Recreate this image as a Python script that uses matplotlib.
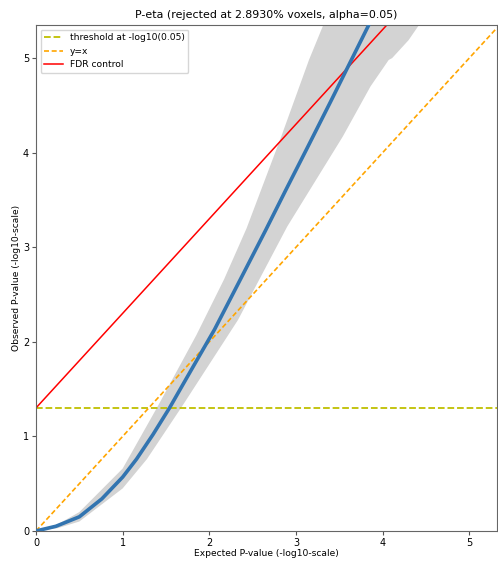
import numpy as np
import matplotlib
matplotlib.use("Agg")
import matplotlib.pyplot as plt

# observed vs expected -log10 p
expected = [0, 0.23, 0.5, 0.76, 1.0, 1.16, 1.35, 1.54, 1.79, 2.06, 2.35, 2.65, 2.88, 3.13, 3.40, 3.65, 3.84]
observed = [0, 0.05, 0.15, 0.34, 0.57, 0.76, 1.02, 1.30, 1.70, 2.13, 2.645, 3.18, 3.60, 4.05, 4.54, 5.00, 5.35]

# confidence band edges
band_up_x = [0, 0.25, 0.5, 1.0, 1.40, 1.85, 2.17, 2.43, 2.83, 3.15, 3.32, 3.45]
band_up_y = [0, 0.07, 0.20, 0.66, 1.31, 2.07, 2.66, 3.20, 4.17, 4.98, 5.36, 5.70]
band_lo_x = [0, 0.25, 0.5, 1.0, 1.28, 1.68, 2.33, 2.90, 3.54, 3.86, 4.07, 4.11, 4.30, 4.42, 4.55]
band_lo_y = [0, 0.03, 0.10, 0.45, 0.76, 1.31, 2.23, 3.22, 4.17, 4.70, 4.98, 5.00, 5.19, 5.35, 5.55]

alpha = 0.05
max_exp = 5.32
max_obs = 5.35

fig = plt.figure(figsize=(4.98, 5.65), dpi=100)
ax = fig.add_axes([0.0723, 0.0602, 0.9257, 0.8956])

poly_x = np.concatenate([band_up_x, band_lo_x[::-1]])
poly_y = np.concatenate([band_up_y, band_lo_y[::-1]])
ax.fill(poly_x, poly_y, color="lightgray", lw=0)

thr = -np.log10(alpha)
ax.axhline(thr, color="y", ls="--", lw=1.3, label="threshold at -log10(0.05)")
ax.plot([0, max_exp], [0, max_exp], color="orange", ls="--", lw=1.2, dashes=(3, 1.6), label="y=x")
ax.plot([0, max_exp], [thr, thr + max_exp], color="red", lw=1.1, label="FDR control")

ax.plot(expected, observed, color="#3274b0", lw=2.6, solid_capstyle="round",
        solid_joinstyle="round", zorder=3)

ax.set_xlim(0, max_exp)
ax.set_ylim(0, max_obs)
ax.set_xticks([0, 1, 2, 3, 4, 5])
ax.set_yticks([0, 1, 2, 3, 4, 5])
ax.tick_params(labelsize=7, color="#555555", length=3, pad=2)
for s in ax.spines.values():
    s.set_color("#666666")

ax.set_title("P-eta (rejected at 2.8930% voxels, alpha=0.05)", fontsize=7.9, pad=5)
ax.set_xlabel("Expected P-value (-log10-scale)", fontsize=6.6, labelpad=1)
ax.set_ylabel("Observed P-value (-log10-scale)", fontsize=6.6, labelpad=1)
ax.legend(loc="upper left", fontsize=6.6)

fig.savefig("out.png", dpi=100)
